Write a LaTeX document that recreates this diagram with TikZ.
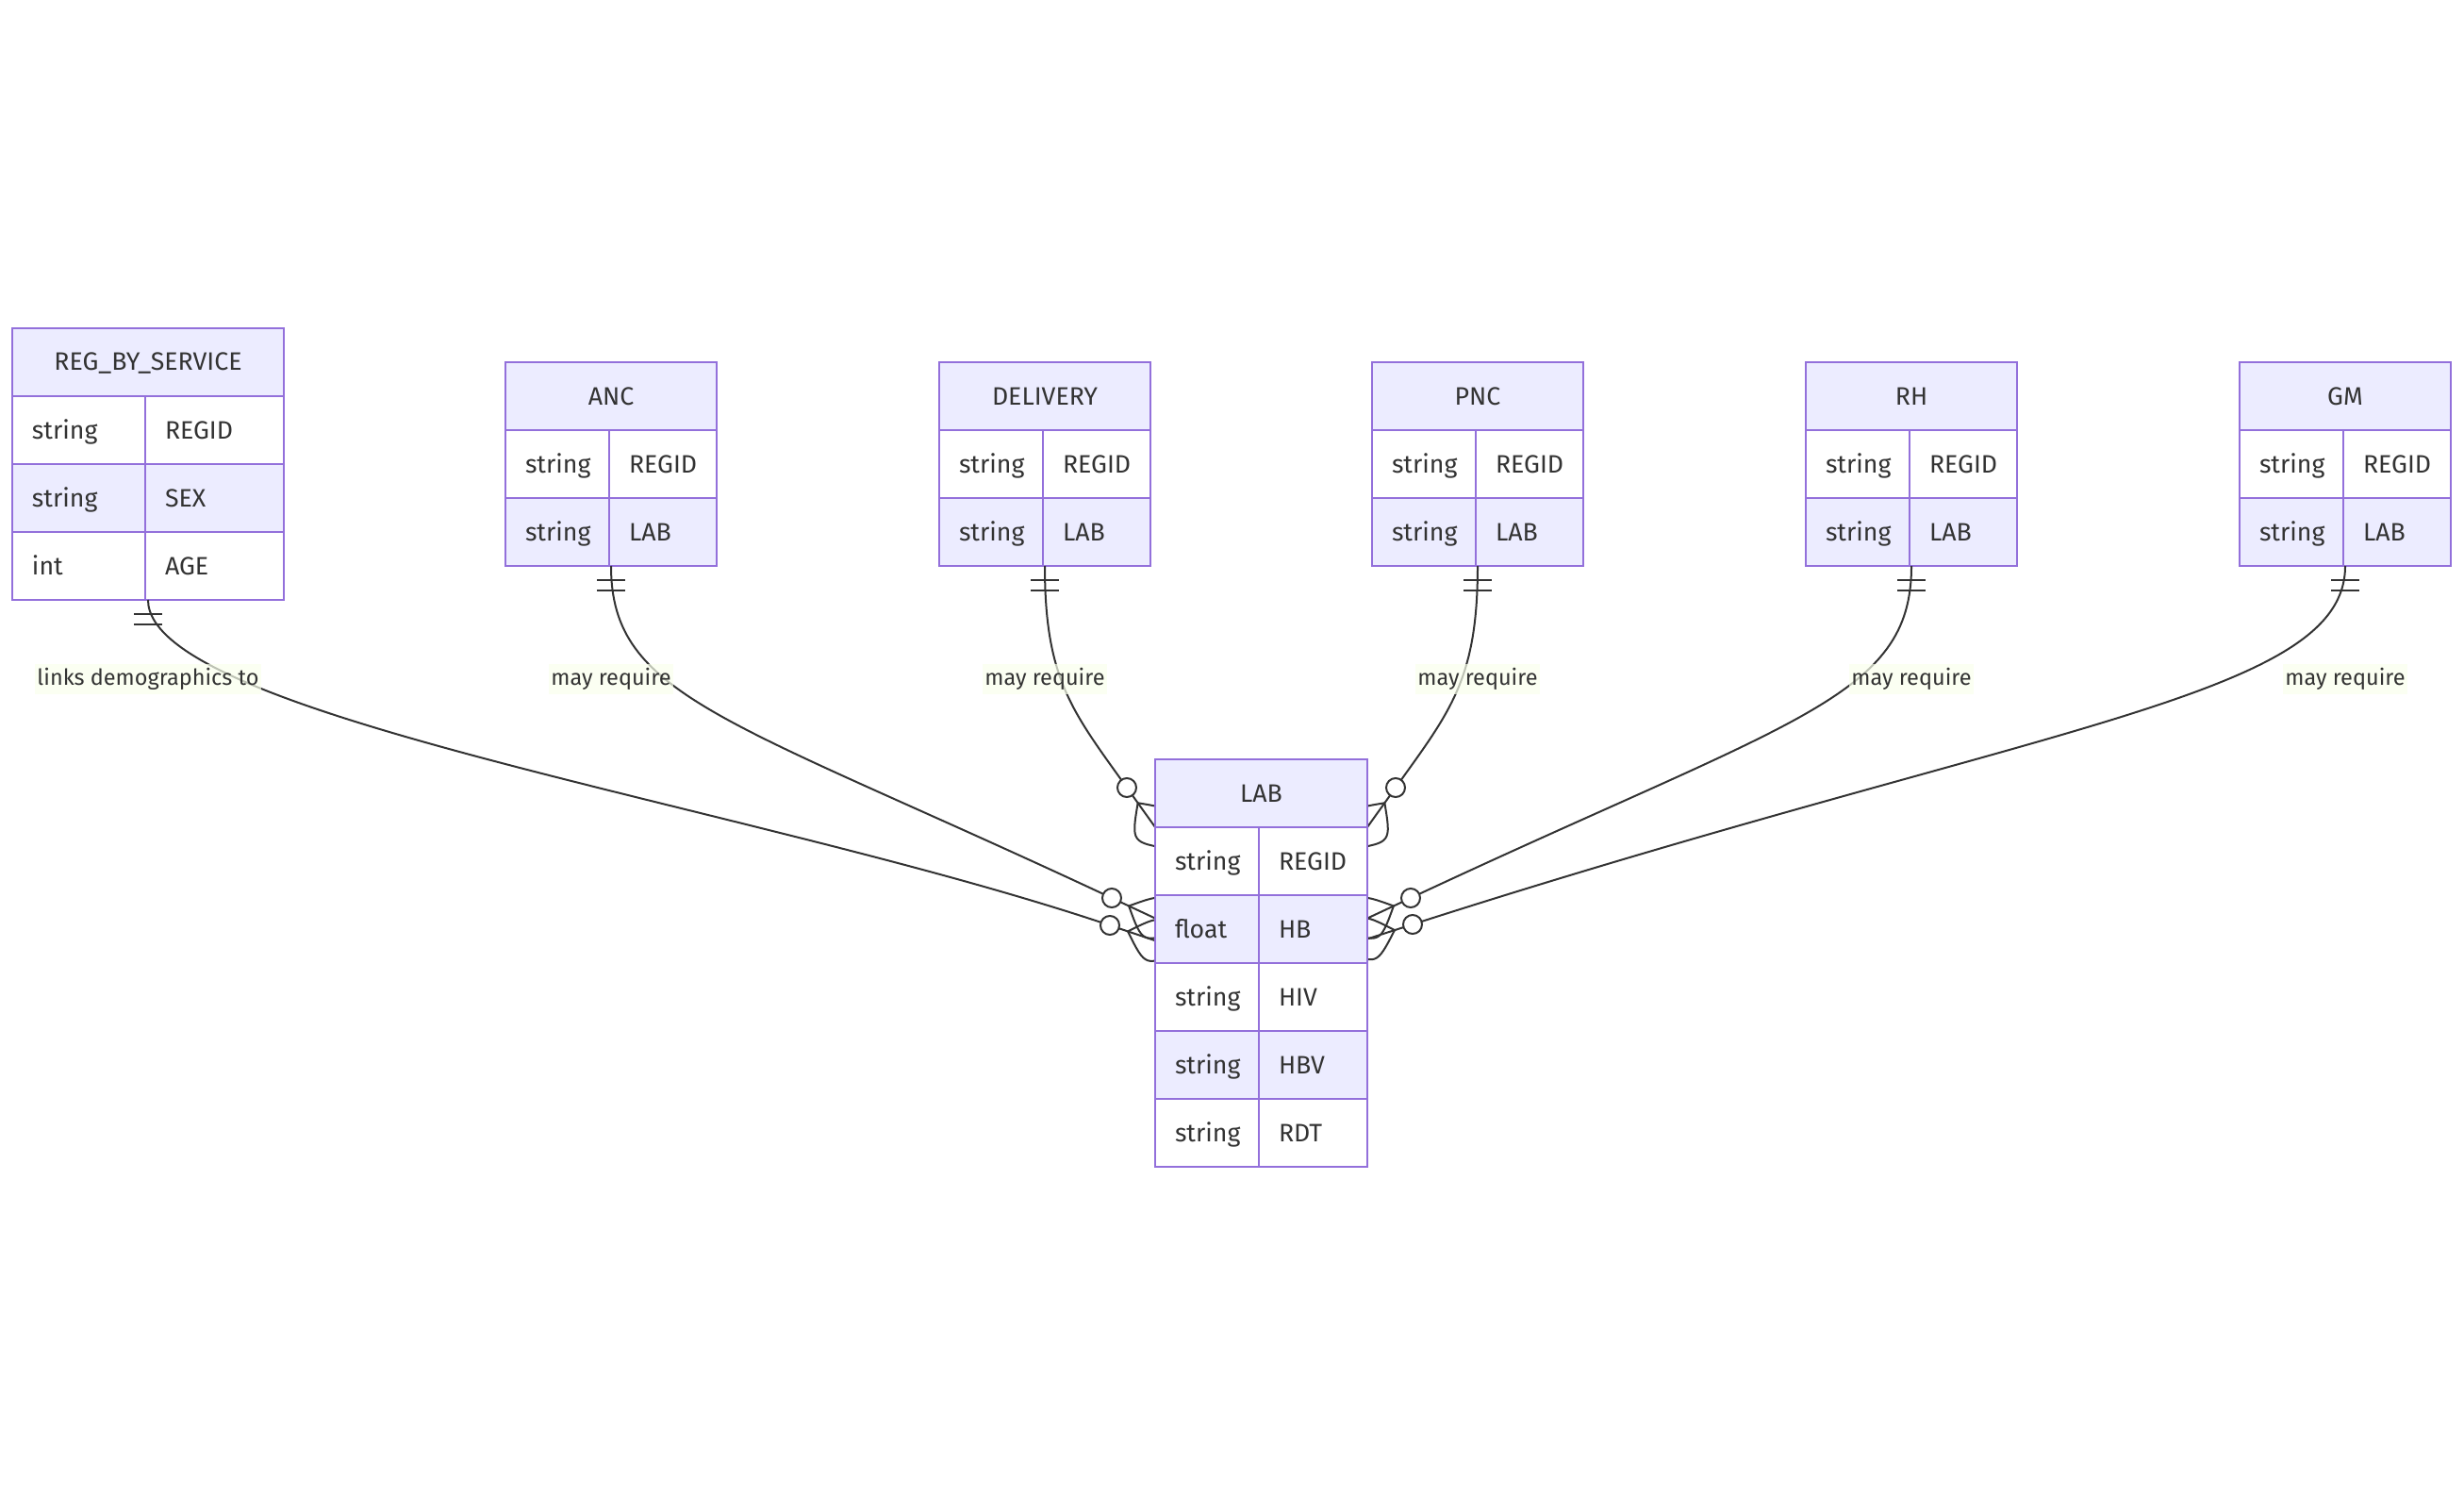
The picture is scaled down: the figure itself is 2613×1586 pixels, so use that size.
\documentclass[tikz,border=0pt]{standalone}
\usepackage{fontspec}
\setmainfont{Fira Sans}
\usetikzlibrary{positioning,calc}

\definecolor{entfill}{HTML}{ECECFF}
\definecolor{entline}{HTML}{9370DB}
\definecolor{ink}{HTML}{333333}
\definecolor{lblfill}{RGB}{249,255,236}

% entity box: name, top-left corner, key column, field column, title, rows
\newcommand{\erentity}[6]{%
  \pgfmathsetmacro{\keyw}{#3-42}%
  \pgfmathsetmacro{\fldw}{#4-42}%
  \pgfmathsetmacro{\allw}{#3+#4}%
  \node[enthead, minimum width=\allw pt, anchor=north west] (#1) at (#2) {#5};
  \foreach \typ/\fld [count=\rowi] in {#6} {
    \ifodd\rowi \def\rowfill{white}\else \def\rowfill{entfill}\fi
    \node[entcell, fill=\rowfill, text width=\keyw pt, anchor=north west]
      (#1-k\rowi) at ([yshift={-(\rowi-1)*72pt}]#1.south west) {\typ};
    \node[entcell, fill=\rowfill, text width=\fldw pt, anchor=north west]
      (#1-f\rowi) at (#1-k\rowi.north east) {\fld};
  }
}

% exactly-one mark under an entity
\newcommand{\onebar}[1]{%
  \draw[rel] ([xshift=-15pt,yshift=-15pt]#1) -- ++(30,0)
             ([xshift=-15pt,yshift=-26pt]#1) -- ++(30,0);
}

% zero-or-many mark: circle name, centre, direction
\newcommand{\manyend}[3]{%
  \begin{scope}[shift={(#2)}, rotate=#3]
    \draw[rel] (0,0) -- (80,0);
    \draw[rel] (20,0) .. controls (50,-30) .. (80,0) .. controls (50,30) .. (20,0);
    \node[zerocirc] (#1) at (0,0) {};
  \end{scope}
}

\begin{document}
\begin{tikzpicture}[x=1pt, y=-1pt, font=\fontsize{26.7pt}{32pt}\selectfont]
\tikzset{
  ent/.style = {draw=entline, line width=2.5pt, outer sep=0pt, inner sep=0pt,
                minimum height=72pt, text=ink, text height=18pt, text depth=0pt},
  enthead/.style = {ent, fill=entfill},
  entcell/.style = {ent, align=left, inner xsep=21pt},
  rel/.style = {draw=ink, line width=2pt},
  rellabel/.style = {fill=lblfill, fill opacity=0.7, text opacity=1, text=ink,
                     inner xsep=2pt, inner ysep=4pt,
                     font=\fontsize{23.5pt}{28pt}\selectfont},
  zerocirc/.style = {circle, draw=ink, fill=white, line width=2pt,
                     minimum size=20pt, inner sep=0pt}
}
\useasboundingbox (0,0) rectangle (2613,1586);

% upper entities
\erentity{reg}{13,348}{141}{147}{REG\_BY\_SERVICE}{string/REGID, string/SEX, int/AGE}
\erentity{anc}{536,384}{110}{114}{ANC}{string/REGID, string/LAB}
\erentity{delivery}{996,384}{110}{114}{DELIVERY}{string/REGID, string/LAB}
\erentity{pnc}{1455,384}{110}{114}{PNC}{string/REGID, string/LAB}
\erentity{rh}{1915,384}{110}{114}{RH}{string/REGID, string/LAB}
\erentity{gm}{2375,384}{110}{114}{GM}{string/REGID, string/LAB}

\coordinate (reg-foot) at (reg.north |- reg-k3.south);
\coordinate (anc-foot) at (anc.north |- anc-k2.south);
\coordinate (delivery-foot) at (delivery.north |- delivery-k2.south);
\coordinate (pnc-foot) at (pnc.north |- pnc-k2.south);
\coordinate (rh-foot) at (rh.north |- rh-k2.south);
\coordinate (gm-foot) at (gm.north |- gm-k2.south);

% where the relations reach LAB
\coordinate (lab-in1) at (1195,835);
\coordinate (lab-in2) at (1179,952);
\coordinate (lab-in3) at (1177,981);
\coordinate (lab-in4) at (1480,835);
\coordinate (lab-in5) at (1496,952);
\coordinate (lab-in6) at (1498,980);

% relations
\draw[rel] (reg-foot) .. controls +(0,124) and +(-380,-128) .. (lab-in3);
\draw[rel] (anc-foot) .. controls +(0,140) and +(-408,-191) .. (lab-in2);
\draw[rel] (delivery-foot) .. controls +(0,120) and +(-58,-81) .. (lab-in1);
\draw[rel] (pnc-foot) .. controls +(0,120) and +(58,-81) .. (lab-in4);
\draw[rel] (rh-foot) .. controls +(0,140) and +(408,-191) .. (lab-in5);
\draw[rel] (gm-foot) .. controls +(0,140) and +(666,-214) .. (lab-in6);

\foreach \e in {reg,anc,delivery,pnc,rh,gm} {\onebar{\e-foot}}

\manyend{c1}{lab-in1}{-54.4}
\manyend{c2}{lab-in2}{-25.1}
\manyend{c3}{lab-in3}{-18.6}
\manyend{c4}{lab-in4}{-125.6}
\manyend{c5}{lab-in5}{-154.9}
\manyend{c6}{lab-in6}{-162.2}

\node[rellabel] (lbl-reg) at (157,720) {links demographics to};
\node[rellabel] (lbl-anc) at (648,720) {may require};
\node[rellabel] (lbl-delivery) at (1108,720) {may require};
\node[rellabel] (lbl-pnc) at (1567,720) {may require};
\node[rellabel] (lbl-rh) at (2027,720) {may require};
\node[rellabel] (lbl-gm) at (2487,720) {may require};

% LAB on top of the crow's feet
\erentity{lab}{1225,805}{110}{115}{LAB}{string/REGID, float/HB, string/HIV, string/HBV, string/RDT}
\end{tikzpicture}
\end{document}
